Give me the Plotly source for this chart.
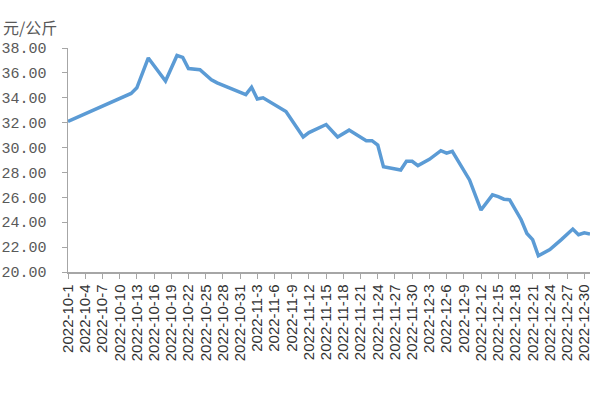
import plotly.graph_objects as go
import pandas as pd

dates = ["2022-10-01", "2022-10-12", "2022-10-13", "2022-10-15", "2022-10-18",
         "2022-10-20", "2022-10-21", "2022-10-22", "2022-10-24", "2022-10-26",
         "2022-10-27", "2022-11-01", "2022-11-02", "2022-11-03", "2022-11-04",
         "2022-11-08", "2022-11-11", "2022-11-12", "2022-11-15", "2022-11-17",
         "2022-11-19", "2022-11-22", "2022-11-23", "2022-11-24", "2022-11-25",
         "2022-11-28", "2022-11-29", "2022-11-30", "2022-12-01", "2022-12-03",
         "2022-12-05", "2022-12-06", "2022-12-07", "2022-12-10", "2022-12-12",
         "2022-12-14", "2022-12-15", "2022-12-16", "2022-12-17", "2022-12-19",
         "2022-12-20", "2022-12-21", "2022-12-22", "2022-12-24", "2022-12-26",
         "2022-12-28", "2022-12-29", "2022-12-30", "2022-12-31"]
prices = [32.1, 34.35, 34.8, 37.2, 35.35,
          37.4, 37.25, 36.35, 36.25, 35.45,
          35.2, 34.25, 34.85, 33.9, 34.0,
          32.9, 30.85, 31.2, 31.85, 30.85,
          31.4, 30.55, 30.55, 30.2, 28.45,
          28.2, 28.9, 28.9, 28.55, 29.05,
          29.75, 29.55, 29.7, 27.4, 24.98,
          26.2, 26.05, 25.85, 25.8, 24.2,
          23.1, 22.6, 21.3, 21.8, 22.6,
          23.45, 23.0, 23.15, 23.05]

tick_vals = pd.date_range("2022-10-01", "2022-12-30", freq="3D")
tick_text = [f"{d.year}-{d.month}-{d.day}" for d in tick_vals]
y_ticks = [20, 22, 24, 26, 28, 30, 32, 34, 36, 38]
y_title = "元/公斤"

fig = go.Figure()
fig.add_trace(go.Scatter(
    x=pd.to_datetime(dates), y=prices, mode="lines",
    line=dict(color="#5B9BD5", width=3.5, shape="linear"),
    hoverinfo="skip", showlegend=False,
))

fig.update_layout(
    width=600, height=400,
    margin=dict(l=68, r=10, t=48, b=128),
    paper_bgcolor="white", plot_bgcolor="white",
    xaxis=dict(
        type="date", automargin=False,
        range=["2022-10-01", "2022-12-31"],
        tickmode="array", tickvals=list(tick_vals), ticktext=tick_text,
        tickangle=-90,
        tickfont=dict(family="Liberation Sans", size=15, color="#333333"),
        showgrid=False, zeroline=False,
        showline=True, linecolor="#A6A6A6", linewidth=1.5,
        ticks="outside", ticklen=5, tickcolor="#A6A6A6",
    ),
    yaxis=dict(
        range=[20, 38], automargin=False,
        tickvals=y_ticks, ticktext=[f"{v:.2f}" for v in y_ticks],
        tickfont=dict(family="Liberation Mono", size=15, color="#595959"),
        ticklabelstandoff=12,
        showgrid=False, zeroline=False,
        showline=True, linecolor="#A6A6A6", linewidth=1.5,
        ticks="outside", ticklen=5, tickcolor="#A6A6A6",
    ),
    annotations=[dict(
        text=y_title, xref="paper", yref="paper", x=-0.128, y=1.0,
        xanchor="left", yanchor="bottom", yshift=7, showarrow=False,
        font=dict(family="Noto Sans CJK SC", size=16, color="#595959"),
    )],
)

fig.write_html(
    "out.html",
    config={"displayModeBar": False, "staticPlot": True},
    post_script="document.body.style.margin='0';document.body.style.overflow='hidden';",
)
